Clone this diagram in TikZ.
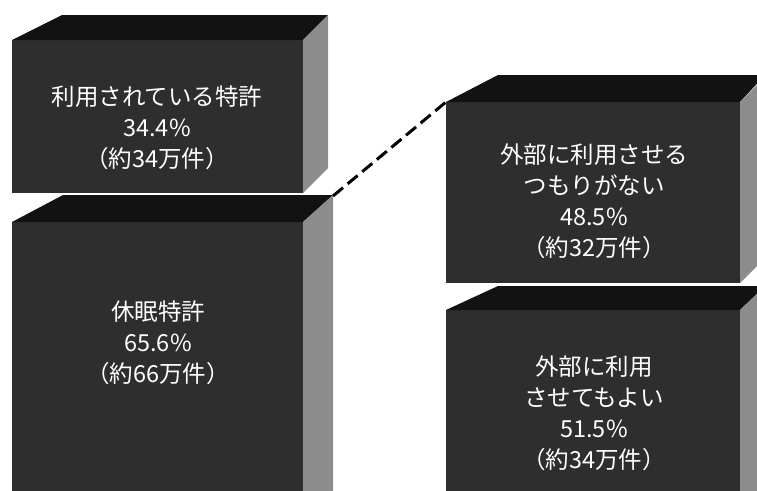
\documentclass[tikz,border=0pt]{standalone}
\usepackage{fontspec}
\newfontfamily\jp{Noto Sans CJK JP}
\begin{document}
\begin{tikzpicture}[x=1pt,y=-1pt,
  frontf/.style={fill=black!82},
  topf/.style={fill=black!93},
  sidef/.style={fill=black!45},
  lbl/.style={text=white,font=\jp\fontsize{23.5}{31}\selectfont,align=center,inner sep=0pt},
  conn/.style={line width=3pt,dash pattern=on 13pt off 6pt}]
\useasboundingbox (0,0) rectangle (757,490);
\clip (0,0) rectangle (757,490);
% box 1
\fill[frontf] (12,40) rectangle (303,193);
\fill[topf] (12,40) -- (62,15) -- (328,15) -- (303,40) -- cycle;
\fill[sidef] (303,40) -- (328,15) -- (328,168) -- (303,193) -- cycle;
% box 2
\fill[frontf] (12,222) rectangle (303,495);
\fill[topf] (12,222) -- (63,195) -- (333,195) -- (303,222) -- cycle;
\fill[sidef] (303,222) -- (333,195) -- (333,495) -- (303,495) -- cycle;
% box 3
\fill[frontf] (446,102) rectangle (740,283);
\fill[topf] (446,102) -- (498,75) -- (765,75) -- (740,102) -- cycle;
\fill[sidef] (740,102) -- (765,77) -- (765,258) -- (740,283) -- cycle;
% box 4
\fill[frontf] (446,310) rectangle (740,495);
\fill[topf] (446,310) -- (498,286) -- (765,286) -- (740,310) -- cycle;
\fill[sidef] (740,310) -- (765,286) -- (765,495) -- (740,495) -- cycle;
% connector
\coordinate (b2tr) at (333,196);
\coordinate (b3tl) at (446,102);
\draw[conn] (b2tr) -- (b3tl);
% labels
\node[lbl] (t1) at (157,128) {利用されている特許\\34.4\%\\（約34万件）};
\node[lbl] (t2) at (158,343) {休眠特許\\65.6\%\\（約66万件）};
\node[lbl] (t3) at (594,201) {外部に利用させる\\つもりがない\\48.5\%\\（約32万件）};
\node[lbl] (t4) at (594,413) {外部に利用\\させてもよい\\51.5\%\\（約34万件）};
\end{tikzpicture}
\end{document}
